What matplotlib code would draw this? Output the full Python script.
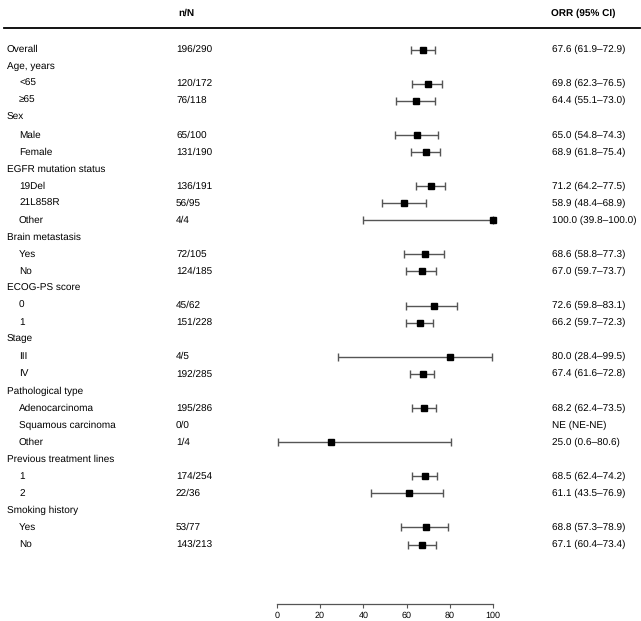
import matplotlib.pyplot as plt
from matplotlib.lines import Line2D
import matplotlib.transforms as mtransforms

plt.rcParams['font.family'] = ['Liberation Sans', 'DejaVu Sans']
plt.rcParams['text.hinting'] = 'no_hinting'
plt.rcParams['text.hinting_factor'] = 1

# Row labels, indent flag, n/N, ORR estimate and CI
labels = ["Overall", "Age, years", "<65", "\u226565", "Sex", "Male", "Female",
          "EGFR mutation status", "19Del", "21L858R", "Other",
          "Brain metastasis", "Yes", "No", "ECOG-PS score", "0", "1",
          "Stage", "III", "IV", "Pathological type", "Adenocarcinoma",
          "Squamous carcinoma", "Other", "Previous treatment lines", "1", "2",
          "Smoking history", "Yes", "No"]
indent = [0, 0, 1, 1, 0, 1, 1, 0, 1, 1, 1, 0, 1, 1, 0, 1, 1, 0, 1, 1,
          0, 1, 1, 1, 0, 1, 1, 0, 1, 1]
nN = ["196/290", "", "120/172", "76/118", "", "65/100", "131/190", "",
      "136/191", "56/95", "4/4", "", "72/105", "124/185", "", "45/62",
      "151/228", "", "4/5", "192/285", "", "195/286", "0/0", "1/4", "",
      "174/254", "22/36", "", "53/77", "143/213"]
orr = [67.6, None, 69.8, 64.4, None, 65.0, 68.9, None, 71.2, 58.9, 100.0,
       None, 68.6, 67.0, None, 72.6, 66.2, None, 80.0, 67.4, None, 68.2,
       None, 25.0, None, 68.5, 61.1, None, 68.8, 67.1]
lo = [61.9, None, 62.3, 55.1, None, 54.8, 61.8, None, 64.2, 48.4, 39.8,
      None, 58.8, 59.7, None, 59.8, 59.7, None, 28.4, 61.6, None, 62.4,
      None, 0.6, None, 62.4, 43.5, None, 57.3, 60.4]
hi = [72.9, None, 76.5, 73.0, None, 74.3, 75.4, None, 77.5, 68.9, 100.0,
      None, 77.3, 73.7, None, 83.1, 72.3, None, 99.5, 72.8, None, 73.5,
      None, 80.6, None, 74.2, 76.9, None, 78.9, 73.4]
ticks = [0, 20, 40, 60, 80, 100]

W, H = 641, 621
fig = plt.figure(figsize=(W / 100, H / 100), dpi=100)

# forest axes: x 0..100 between px 276.7 and 493.3, rows from top line (28) to axis (604)
x0, x1 = 276.7, 493.3
ytop, ybot = 28, 604
ax = fig.add_axes([x0 / W, (H - ybot) / H, (x1 - x0) / W, (ybot - ytop) / H])
row0, step = 49.5, 17.07
ax.set_xlim(0, 100)
ax.set_ylim((ybot - row0) / step, (ytop - row0) / step)

for s in ["top", "right", "left"]:
    ax.spines[s].set_visible(False)
ax.spines["bottom"].set_color("#555555")
ax.spines["bottom"].set_linewidth(0.9)
ax.set_yticks([])
ax.set_xticks(ticks)
ax.tick_params(axis="x", colors="#555555", labelcolor="black", labelsize=6.5,
               length=3, width=0.8, pad=2)

for i in range(len(labels)):
    if orr[i] is None:
        continue
    ax.errorbar(orr[i], i, xerr=[[orr[i] - lo[i]], [hi[i] - orr[i]]],
                fmt="s", color="black", ecolor="#555555", elinewidth=1,
                capsize=3, capthick=1, markersize=4.4, clip_on=False)

# text columns
trans = mtransforms.blended_transform_factory(fig.transFigure, ax.transData)
fs = 7.4
for i, lab in enumerate(labels):
    xl = 19 if indent[i] else 7
    ax.text(xl / W, i, lab, transform=trans, fontsize=fs, va="center", ha="left")
    ax.text(176 / W, i, nN[i], transform=trans, fontsize=fs, va="center", ha="left")
    if orr[i] is not None:
        ci = f"{orr[i]:.1f} ({lo[i]:.1f}\u2013{hi[i]:.1f})"
    elif indent[i]:
        ci = "NE (NE-NE)"
    else:
        ci = ""
    ax.text(552 / W, i, ci, transform=trans, fontsize=fs, va="center", ha="left")

# header
hy = (H - 13) / H
fig.text(178 / W, hy, "n/N", fontsize=fs, fontweight="bold", va="center", ha="left")
fig.text(551 / W, hy, "ORR (95% CI)", fontsize=fs, fontweight="bold", va="center", ha="left")
fig.add_artist(Line2D([4 / W, 640 / W], [(H - 28) / H] * 2, color="black", lw=1.3))

fig.savefig("out.png", dpi=100)
